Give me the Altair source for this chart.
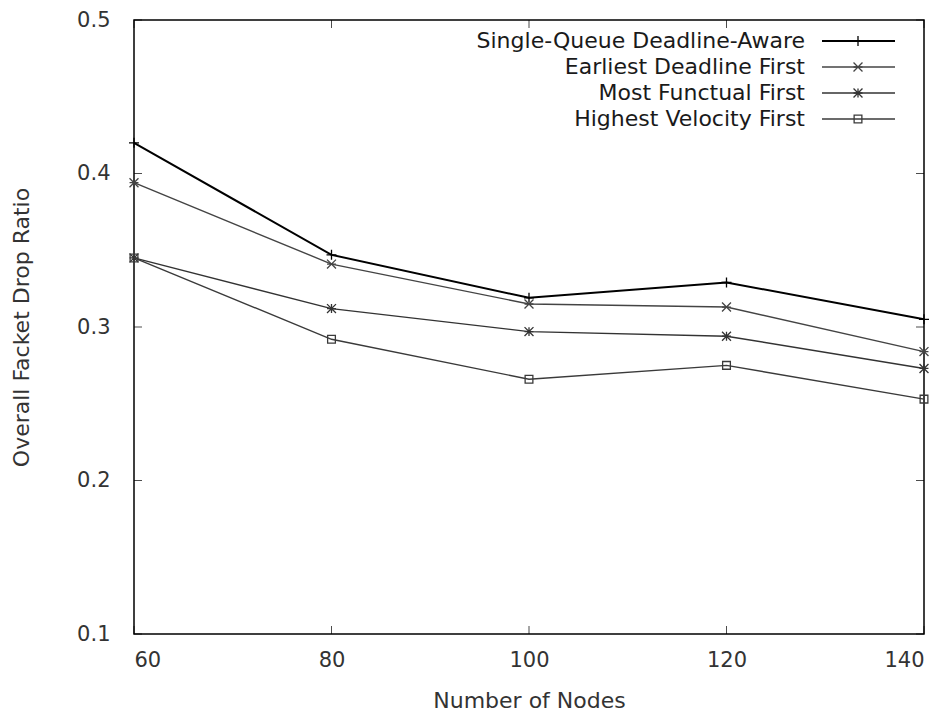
import altair as alt
import pandas as pd

nodes = [60, 80, 100, 120, 140]
series_names = [
    "Single-Queue Deadline-Aware",
    "Earliest Deadline First",
    "Most Functual First",
    "Highest Velocity First",
]
sq_values = [0.420, 0.347, 0.319, 0.329, 0.305]
edf_values = [0.394, 0.341, 0.315, 0.313, 0.284]
mpf_values = [0.345, 0.312, 0.297, 0.294, 0.273]
hvf_values = [0.345, 0.292, 0.266, 0.275, 0.253]
x_ticks = [60, 80, 100, 120, 140]
y_ticks = [0.1, 0.2, 0.3, 0.4, 0.5]

all_values = [sq_values, edf_values, mpf_values, hvf_values]
shapes = [
    "M-1,0L1,0M0,-1L0,1",
    "M-1,-1L1,1M-1,1L1,-1M-1,0L1,0",
    "M-1,0L1,0M0,-1L0,1M-1,-1L1,1M-1,1L1,-1",
    "square",
]
colors = ["#000000", "#444444", "#333333", "#3a3a3a"]
widths = [2.0, 1.4, 1.4, 1.4]
sizes = [100, 80, 80, 60]

FONT = "DejaVu Sans"
W, H = 790, 614

xs = alt.Scale(domain=[60, 140], nice=False)
ys = alt.Scale(domain=[0.1, 0.5], nice=False)

x_enc = alt.X(
    "nodes:Q",
    scale=xs,
    axis=alt.Axis(
        values=x_ticks, format="d", title="Number of Nodes", ticks=False,
        domain=False, grid=False, labelPadding=15, titlePadding=20,
        labelFontSize=21, titleFontSize=22, labelColor="#333",
        titleColor="#333", labelFont=FONT, titleFont=FONT,
        titleFontWeight="normal",
    ),
)
y_enc = alt.Y(
    "value:Q",
    scale=ys,
    axis=alt.Axis(
        values=y_ticks, format=".1f", title="Overall Facket Drop Ratio",
        ticks=False, domain=False, grid=False, labelPadding=24,
        titlePadding=43, labelFontSize=21, titleFontSize=22,
        labelColor="#333", titleColor="#333", labelFont=FONT, titleFont=FONT,
        titleFontWeight="normal",
    ),
)

layers = []
for name, vals, shp, col, sw, sz in zip(series_names, all_values, shapes, colors, widths, sizes):
    df = pd.DataFrame({"nodes": nodes, "value": vals, "series": name})
    base = alt.Chart(df)
    layers.append(base.mark_line(color=col, strokeWidth=sw).encode(x=x_enc, y=y_enc))
    layers.append(
        base.mark_point(shape=shp, color=col, filled=False, size=sz, strokeWidth=1.3, opacity=1).encode(
            x=alt.X("nodes:Q", scale=xs), y=alt.Y("value:Q", scale=ys)
        )
    )

# inner (gnuplot-style) ticks
ydf = pd.DataFrame({"value": y_ticks})
xdf = pd.DataFrame({"nodes": x_ticks})
for xv in [4, W - 4]:
    layers.append(
        alt.Chart(ydf).mark_tick(color="black", size=8, thickness=1).encode(
            y=alt.Y("value:Q", scale=ys), x=alt.value(xv)
        )
    )
for yv in [4, H - 4]:
    layers.append(
        alt.Chart(xdf).mark_tick(color="black", size=8, thickness=1).encode(
            x=alt.X("nodes:Q", scale=xs), y=alt.value(yv)
        )
    )

# key (gnuplot style: label then sample)
for i, (name, shp, col, sw, sz) in enumerate(zip(series_names, shapes, colors, widths, sizes)):
    ky = 21 + 26 * i
    kdf = pd.DataFrame({"label": [name]})
    kb = alt.Chart(kdf)
    layers.append(
        kb.mark_text(align="right", baseline="middle", font=FONT, fontSize=22, color="#1a1a1a").encode(
            text="label:N", x=alt.value(671), y=alt.value(ky)
        )
    )
    layers.append(
        kb.mark_rule(color=col, strokeWidth=sw).encode(
            x=alt.value(688), x2=alt.value(761), y=alt.value(ky)
        )
    )
    layers.append(
        kb.mark_point(shape=shp, color=col, filled=False, size=sz, strokeWidth=1.3, opacity=1).encode(
            x=alt.value(724), y=alt.value(ky)
        )
    )

chart = (
    alt.layer(*layers)
    .properties(
        width=W,
        height=H,
        autosize=alt.AutoSizeParams(type="none"),
        padding={"left": 134, "top": 20, "right": 26, "bottom": 81},
        background="white",
    )
    .configure_view(stroke="black", strokeWidth=1.5)
)

chart.save("out.html", embed_options={"renderer": "svg", "actions": False})
